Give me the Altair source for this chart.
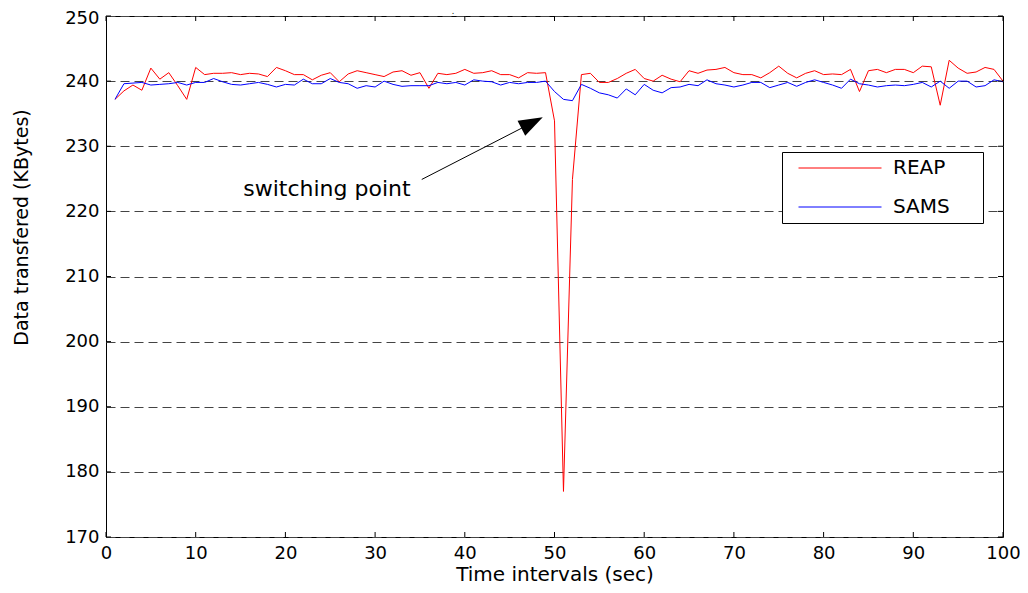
import altair as alt
import pandas as pd

# ---------------- data ----------------
time_s = list(range(1, 101))

reap = [
    237.2, 238.5, 239.4, 238.6, 242.0, 240.3, 241.3, 239.3, 237.2, 242.1,
    241.0, 241.2, 241.2, 241.3, 241.0, 241.2, 241.1, 240.7, 242.1, 241.6,
    241.0, 241.0, 240.2, 240.9, 241.3, 239.9, 241.1, 241.6, 241.3, 241.0,
    240.7, 241.4, 241.6, 240.9, 241.3, 238.9, 241.2, 241.0, 241.2, 241.8,
    241.2, 241.3, 241.6, 241.0, 241.0, 240.5, 241.3, 241.2, 241.3, 233.9,
    177.0, 224.9, 241.0, 241.2, 239.8, 239.8, 240.4, 241.2, 241.8, 240.4,
    240.0, 240.9, 240.3, 239.9, 241.6, 241.2, 241.7, 241.8, 242.1, 241.3,
    241.0, 241.0, 240.5, 241.3, 242.3, 241.2, 240.5, 241.2, 241.6, 241.0,
    241.1, 241.0, 241.8, 238.4, 241.6, 241.8, 241.3, 241.8, 241.8, 241.3,
    242.3, 242.2, 236.3, 243.2, 242.0, 241.2, 241.4, 242.1, 241.8, 240.0,
]

sams = [
    237.2, 239.6, 239.7, 239.8, 239.4, 239.5, 239.6, 239.8, 239.4, 239.8,
    239.8, 240.4, 239.9, 239.5, 239.4, 239.6, 239.8, 239.5, 239.1, 239.5,
    239.4, 240.3, 239.6, 239.6, 240.4, 239.8, 239.6, 238.9, 239.3, 239.1,
    240.0, 239.5, 239.2, 239.3, 239.3, 239.3, 239.8, 239.6, 239.8, 239.4,
    240.2, 240.0, 239.9, 239.4, 239.8, 239.6, 239.8, 239.8, 240.0, 238.4,
    237.2, 237.0, 239.5, 238.9, 238.2, 237.9, 237.4, 238.8, 237.9, 239.5,
    238.6, 238.2, 239.0, 239.1, 239.5, 239.3, 240.2, 239.6, 239.4, 239.1,
    239.4, 239.8, 239.8, 239.0, 239.4, 239.8, 239.2, 239.8, 240.2, 239.8,
    239.4, 238.9, 240.3, 239.6, 239.4, 239.1, 239.3, 239.4, 239.3, 239.5,
    239.8, 239.1, 240.0, 238.9, 240.0, 240.0, 239.1, 239.3, 240.2, 239.9,
]

series_names = ["REAP", "SAMS"]
series_colors = ["#ff0000", "#0000ff"]
x_ticks = [0, 10, 20, 30, 40, 50, 60, 70, 80, 90, 100]
y_ticks = [170, 180, 190, 200, 210, 220, 230, 240, 250]

annot_label = ["switching point"]
annot_text_x = [15.3]
annot_text_y = [222.3]
arrow_x = [35.2, 47.5]
arrow_y = [224.9, 233.6]

# ---------------- tables ----------------
df = pd.DataFrame({
    "t": time_s * 2,
    "v": reap + sams,
    "series": [series_names[0]] * len(reap) + [series_names[1]] * len(sams),
})
xt = pd.DataFrame({"t": x_ticks})
yt = pd.DataFrame({"v": y_ticks})
ann = pd.DataFrame({"t": annot_text_x, "v": annot_text_y, "label": annot_label})
arr = pd.DataFrame({"t": arrow_x, "v": arrow_y, "k": [0, 1]})
head = pd.DataFrame({"t": [arrow_x[1]], "v": [arrow_y[1]]})

W, H = 897, 521
FONT = "DejaVu Sans"

xs = alt.Scale(domain=[0, 100], nice=False, zero=False)
ys = alt.Scale(domain=[170, 250], nice=False, zero=False)

x_axis = alt.Axis(
    values=x_ticks, title="Time intervals (sec)", grid=False, ticks=False, tickSize=0,
    domain=False, labelFont=FONT, labelFontSize=18, labelColor="black",
    labelPadding=7, labelFlush=False, titleFont=FONT, titleFontSize=20,
    titleFontWeight="normal", titleColor="black", titleY=43,
    titleBaseline="alphabetic",
)
y_axis = alt.Axis(
    values=y_ticks, title="Data transfered (KBytes)", grid=True, gridDash=[9, 5],
    gridColor="#444444", gridWidth=1, ticks=False, tickSize=0, domain=False,
    labelFont=FONT, labelFontSize=18, labelColor="black", labelPadding=7,
    labelOffset={"condition": {"test": "datum.value == 250", "value": 2.5}, "value": 0},
    labelFlush=False, titleFont=FONT, titleFontSize=19,
    titleFontWeight="normal", titleColor="black", titleX=-85, titleY=211,
    titleBaseline="middle",
)

X = alt.X("t:Q", scale=xs, axis=x_axis)
Y = alt.Y("v:Q", scale=ys, axis=y_axis)

lines = alt.Chart(df).mark_line(strokeWidth=1, clip=True).encode(
    x=X,
    y=Y,
    color=alt.Color(
        "series:N",
        scale=alt.Scale(domain=series_names, range=series_colors),
        legend=alt.Legend(
            title=None, orient="none", legendX=676, legendY=136,
            fillColor="white", strokeColor="black",
            padding=4, clipHeight=24, rowPadding=15,
            symbolType="stroke", symbolSize=6889, symbolOffset=12,
            symbolStrokeWidth=1, labelFont=FONT, labelFontSize=20,
            labelColor="black", labelOffset=11,
            labelExpr="datum.label + '\u2800\u2800'",
        ),
    ),
    order=alt.Order("t:Q"),
)

tick_b = alt.Chart(xt).mark_rule(color="black", strokeWidth=1).encode(
    x=X, y=alt.value(H), y2=alt.value(H - 5))
tick_t = alt.Chart(xt).mark_rule(color="black", strokeWidth=1).encode(
    x=X, y=alt.value(0), y2=alt.value(5))
tick_l = alt.Chart(yt).mark_rule(color="black", strokeWidth=1).encode(
    y=Y, x=alt.value(0), x2=alt.value(5))
tick_r = alt.Chart(yt).mark_rule(color="black", strokeWidth=1).encode(
    y=Y, x=alt.value(W), x2=alt.value(W - 5))

ann_text = alt.Chart(ann).mark_text(
    font=FONT, fontSize=22, align="left", baseline="alphabetic", color="black"
).encode(x=X, y=Y, text="label:N")

arrow_line = alt.Chart(arr).mark_line(color="black", strokeWidth=1).encode(
    x=X, y=Y, order="k:Q")

arrow_head = alt.Chart(head).mark_point(
    shape="M0,-1L-0.7,1L0.7,1Z", size=576, angle=63, filled=True,
    color="black", opacity=1, strokeWidth=0,
).encode(x=X, y=Y)

dot_title = alt.Chart(head).mark_text(
    text=".", font=FONT, fontSize=8, color="black", align="center", baseline="bottom"
).encode(x=alt.value(347), y=alt.value(0))

chart = alt.layer(
    lines, tick_b, tick_t, tick_l, tick_r, arrow_line, arrow_head, ann_text, dot_title
).properties(
    width=W, height=H,
    autosize=alt.AutoSizeParams(type="none"),
    padding={"left": 98, "top": 8, "right": 17, "bottom": 48},
    background="white",
).configure_view(
    stroke="black", strokeWidth=1,
)

chart.save("out.html", embed_options={"renderer": "svg", "actions": False})
